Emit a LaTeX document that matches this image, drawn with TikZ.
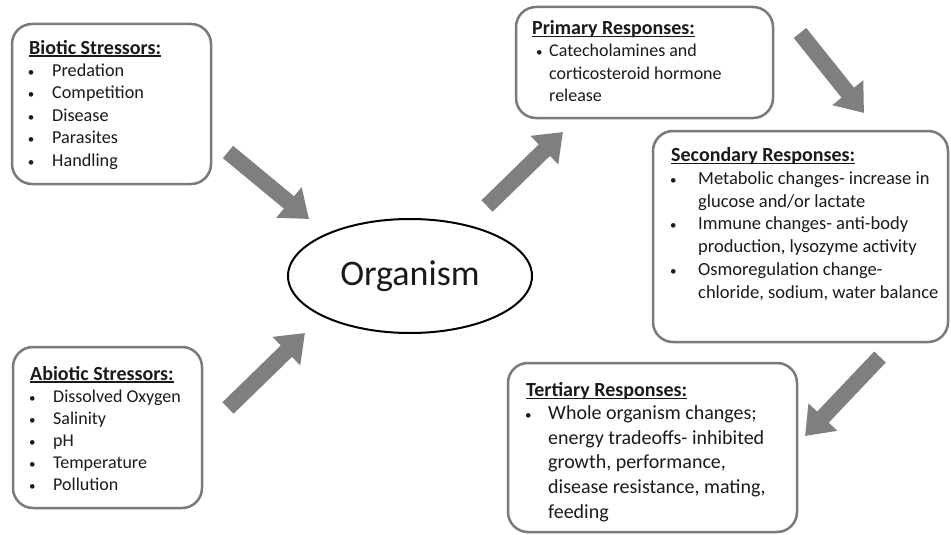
\documentclass[tikz,border=0pt]{standalone}
\usepackage{fontspec}
\setmainfont{Carlito}
\usetikzlibrary{arrows.meta,shapes.geometric}
\definecolor{boxgray}{HTML}{7A7A7A}
\definecolor{arrgray}{HTML}{7F7F7F}
\definecolor{ink}{HTML}{1A1A1A}
\newcommand\hdr[1]{{\fontsize{20}{22.5}\selectfont\bfseries\setbox0\hbox{#1}\rlap{\rule[-2.6pt]{\wd0}{1.3pt}}\box0}}
\newcommand\bul[2]{\makebox[0pt][l]{\hspace*{#1}{\fontsize{13}{13}\selectfont\textbullet}}\hspace*{#2}}
\newcommand\ind[1]{\hspace*{#1}}
\begin{document}
\begin{tikzpicture}[x=1pt,y=-1pt,
  box/.style={draw=boxgray,line width=2.5pt,rounded corners=20pt,inner sep=0pt,fill=white},
  txt/.style={anchor=base west,align=left,inner sep=0pt,text=ink},
  bigarrow/.style={draw=arrgray,line width=16pt,-{Triangle[width=38pt,length=26pt]}}]
\fill[white] (0,0) rectangle (951,535);
\useasboundingbox (0,0) rectangle (951,535);

% boxes
\node[box,minimum width=199pt,minimum height=160pt] (biotic) at (111.5,104) {};
\node[box,minimum width=189pt,minimum height=161pt] (abiotic) at (107.5,427.5) {};
\node[box,minimum width=257pt,minimum height=111pt] (primary) at (644.5,62.5) {};
\node[box,minimum width=295pt,minimum height=211pt] (secondary) at (800.5,236.5) {};
\node[box,minimum width=289pt,minimum height=169pt] (tertiary) at (652.5,447.5) {};

% texts (anchored at the baseline of the last line)
\node[txt,font=\fontsize{18.2}{22.4}\selectfont] (biotictext) at (29,166) {%
\hdr{Biotic Stressors:}\\
\bul{-1.2pt}{23pt}Predation\\
\bul{-1.2pt}{23pt}Competition\\
\bul{-1.2pt}{23pt}Disease\\
\bul{-1.2pt}{23pt}Parasites\\
\bul{-1.2pt}{23pt}Handling};

\node[txt,font=\fontsize{18}{22}\selectfont] (abiotictext) at (30,490) {%
\hdr{Abiotic Stressors:}\\
\bul{-1.2pt}{23pt}Dissolved Oxygen\\
\bul{-1.2pt}{23pt}Salinity\\
\bul{-1.2pt}{23pt}pH\\
\bul{-1.2pt}{23pt}Temperature\\
\bul{-1.2pt}{23pt}Pollution};

\node[txt,font=\fontsize{18}{22.5}\selectfont] (primarytext) at (532,102) {%
\hdr{Primary Responses:}\\
\bul{3.8pt}{17pt}Catecholamines and\\
\ind{17pt}corticosteroid hormone\\
\ind{17pt}release};

\node[txt,font=\fontsize{18.5}{22.7}\selectfont] (secondarytext) at (671,298) {%
\hdr{Secondary Responses:}\\
\bul{-1.2pt}{27pt}Metabolic changes- increase in\\
\ind{27pt}glucose and/or lactate\\
\bul{-1.2pt}{27pt}Immune changes- anti-body\\
\ind{27pt}production, lysozyme activity\\
\bul{-1.2pt}{27pt}Osmoregulation change-\\
\ind{27pt}chloride, sodium, water balance};

\node[txt,font=\fontsize{20}{24.6}\selectfont] (tertiarytext) at (526,518) {%
\hdr{Tertiary Responses:}\\[-1.5pt]
\bul{-1.2pt}{22pt}Whole organism changes;\\
\ind{22pt}energy tradeoffs- inhibited\\
\ind{22pt}growth, performance,\\
\ind{22pt}disease resistance, mating,\\
\ind{22pt}feeding};

% organism
\node[draw=black,line width=2pt,ellipse,minimum width=244pt,minimum height=114pt,inner sep=0pt,text=ink,font=\fontsize{36}{40}\selectfont] (org) at (410,276) {Organism};

% arrows
\coordinate (a1s) at (228,152); \coordinate (a1e) at (309,219);
\coordinate (a2s) at (228,408); \coordinate (a2e) at (305,333);
\coordinate (a3s) at (487,206); \coordinate (a3e) at (563,132);
\coordinate (a4s) at (800,33);  \coordinate (a4e) at (864,113);
\coordinate (a5s) at (880,357); \coordinate (a5e) at (805,436);
\draw[bigarrow] (a1s) -- (a1e);
\draw[bigarrow] (a2s) -- (a2e);
\draw[bigarrow] (a3s) -- (a3e);
\draw[bigarrow] (a4s) -- (a4e);
\draw[bigarrow] (a5s) -- (a5e);
\end{tikzpicture}
\end{document}
